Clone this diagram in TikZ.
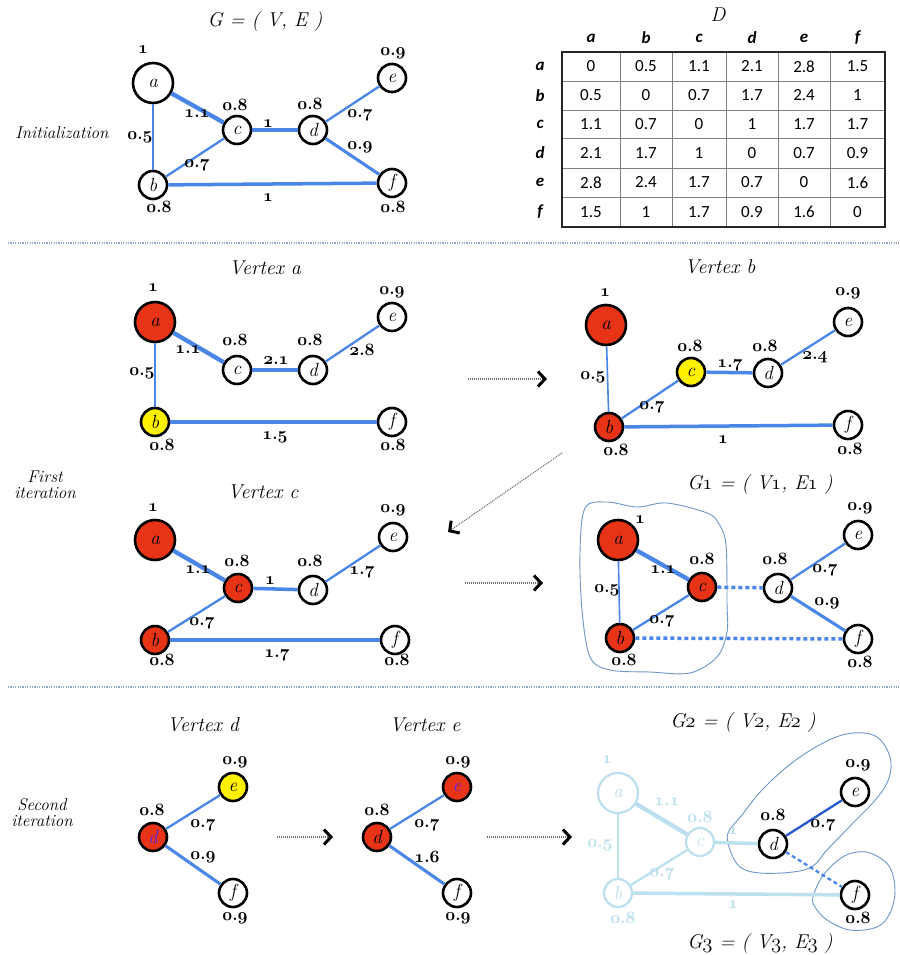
\documentclass[tikz,border=0pt]{standalone}
\usepackage{fontspec}
\usetikzlibrary{arrows.meta}
\newfontfamily\tabfont{Carlito}
\definecolor{eblue}{RGB}{74,134,232}
\definecolor{edark}{RGB}{40,90,205}
\definecolor{nred}{RGB}{232,52,22}
\definecolor{nyel}{RGB}{255,240,0}
\definecolor{fadec}{RGB}{188,224,238}
\definecolor{blobc}{RGB}{110,150,200}
\definecolor{sepc}{RGB}{140,170,200}
\definecolor{letblue}{RGB}{90,40,230}
\definecolor{arrg}{RGB}{110,110,110}
\newcommand\od[1]{{\usefont{OML}{cmm}{b}{it}#1}}
\newcommand\ot[1]{{\usefont{OML}{cmm}{m}{it}#1}}
\newcommand\wv[2]{\od{#1}\textbf{.}\od{#2}}
\newcounter{lbc}
\newcommand\lb[2]{\stepcounter{lbc}\node[lbl] (lb\arabic{lbc}) at (#1) {#2};}
\newcommand\flb[2]{\stepcounter{lbc}\node[lbl,text=fadec] (lb\arabic{lbc}) at (#1) {#2};}
\newcommand\trow[8]{%
 \node[thead] (rh-#2) at (540,#1) {#2};
 \node[tcell] (t-#2-a) at (591,#1) {#3};
 \node[tcell] (t-#2-b) at (646,#1) {#4};
 \node[tcell] (t-#2-c) at (699,#1) {#5};
 \node[tcell] (t-#2-d) at (752,#1) {#6};
 \node[tcell] (t-#2-e) at (804,#1) {#7};
 \node[tcell] (t-#2-f) at (857.5,#1) {#8};}
\tikzset{
 vtx/.style={circle, draw=black, line width=2.6pt, minimum size=28pt, inner sep=0pt, fill=white, font=\fontsize{19}{19}\selectfont\itshape},
 bigv/.style={minimum size=40pt},
 redv/.style={fill=nred},
 yelv/.style={fill=nyel},
 fadv/.style={draw=fadec, text=fadec, line width=2.2pt},
 lbl/.style={inner sep=0pt, font=\fontsize{17}{17}\selectfont},
 ttl/.style={inner sep=0pt, font=\fontsize{20}{20}\selectfont\itshape},
 side/.style={inner sep=0pt, align=center, font=\fontsize{17}{16}\selectfont\itshape},
 e05/.style={draw=eblue, line width=1.6pt},
 e07/.style={draw=eblue, line width=2.3pt},
 e09/.style={draw=eblue, line width=3.1pt},
 e10/.style={draw=eblue, line width=3.5pt},
 e11/.style={draw=eblue, line width=4.3pt},
 dotl/.style={dash pattern=on 4pt off 3pt},
 fade/.style={draw=fadec},
 arr/.style={draw=arrg, line width=1.1pt, dash pattern=on 1pt off 1pt, -{Straight Barb[length=7pt,width=15pt,line width=3pt,color=black]}},
 blob/.style={draw=blobc, line width=0.9pt},
 sep/.style={draw=sepc, line width=1.6pt, dash pattern=on 1.2pt off 1.2pt},
 tcell/.style={inner sep=0pt, font=\tabfont\fontsize{17}{17}\selectfont},
 thead/.style={inner sep=0pt, font=\tabfont\fontsize{17}{17}\selectfont\bfseries\itshape},
}
\begin{document}
\begin{tikzpicture}[x=1pt,y=-1pt]
\fill[white] (0,0) rectangle (899,955);
\useasboundingbox (0,0) rectangle (899,955);

% separators
\draw[sep] (8,243) -- (899,243);
\draw[sep] (8,687) -- (899,687);

% ================= Initialization =================
\node[ttl] (t-init) at (265,22) {G = ( V, E )};
\node[side] (s-init) at (62,133) {Initialization};
\node[vtx,bigv] (i-a) at (153,83) {a};
\node[vtx] (i-b) at (153,185) {b};
\node[vtx] (i-c) at (237,130) {c};
\node[vtx] (i-d) at (313,130) {d};
\node[vtx] (i-e) at (392,78) {e};
\node[vtx] (i-f) at (392,183) {f};
\draw[e11] (i-a) -- (i-c);
\draw[e05] (i-a) -- (i-b);
\draw[e07] (i-b) -- (i-c);
\draw[e10] (i-c) -- (i-d);
\draw[e07] (i-d) -- (i-e);
\draw[e09] (i-d) -- (i-f);
\draw[e10] (i-b) -- (i-f);
\lb{143,50}{\od1}
\lb{235,105}{\wv08}
\lb{310,104}{\wv08}
\lb{393,53}{\wv09}
\lb{197,114}{\wv11}
\lb{268,124}{\od1}
\lb{360,115}{\wv07}
\lb{360,147}{\wv09}
\lb{140,137}{\wv05}
\lb{197,165}{\wv07}
\lb{268,198}{\od1}
\lb{159,207}{\wv08}
\lb{393,207}{\wv08}

% ================= Table =================
\node[inner sep=0pt, font=\fontsize{20}{20}\selectfont\itshape] (t-D) at (718,15) {D};
\node[thead] (th-a) at (591,38) {a};
\node[thead] (th-b) at (646,38) {b};
\node[thead] (th-c) at (699,38) {c};
\node[thead] (th-d) at (752,38) {d};
\node[thead] (th-e) at (804,38) {e};
\node[thead] (th-f) at (857.5,38) {f};
\foreach \xx in {620,672,726,778,830}{\draw[gray, line width=0.8pt] (\xx,52) -- (\xx,227);}
\foreach \yy in {81,110,138,168,197}{\draw[gray, line width=0.8pt] (562,\yy) -- (885,\yy);}
\draw[black!85, line width=1.8pt] (562,52) rectangle (885,227);
\trow{66.5}{a}{0}{0.5}{1.1}{2.1}{2.8}{1.5}
\trow{95.5}{b}{0.5}{0}{0.7}{1.7}{2.4}{1}
\trow{124}{c}{1.1}{0.7}{0}{1}{1.7}{1.7}
\trow{153}{d}{2.1}{1.7}{1}{0}{0.7}{0.9}
\trow{182.5}{e}{2.8}{2.4}{1.7}{0.7}{0}{1.6}
\trow{212}{f}{1.5}{1}{1.7}{0.9}{1.6}{0}

% ================= Vertex a =================
\node[ttl] (t-va) at (265,268) {Vertex a};
\node[vtx,bigv,redv] (a-a) at (155,322) {a};
\node[vtx,yelv] (a-b) at (155,422) {b};
\node[vtx] (a-c) at (237,370) {c};
\node[vtx] (a-d) at (313,370) {d};
\node[vtx] (a-e) at (392,317) {e};
\node[vtx] (a-f) at (392,422) {f};
\draw[e11] (a-a) -- (a-c);
\draw[e10] (a-c) -- (a-d);
\draw[e07] (a-d) -- (a-e);
\draw[e05] (a-a) -- (a-b);
\draw[e10] (a-b) -- (a-f);
\lb{153,288}{\od1}
\lb{392,292}{\wv09}
\lb{235,340}{\wv08}
\lb{310,340}{\wv08}
\lb{188,350}{\wv11}
\lb{276,361}{\wv21}
\lb{362,350}{\wv28}
\lb{142,373}{\wv05}
\lb{275,437}{\wv15}
\lb{162,445}{\wv08}
\lb{393,445}{\wv08}

% ================= Vertex b =================
\node[ttl] (t-vb) at (720,267) {Vertex b};
\node[vtx,bigv,redv] (b-a) at (606,325) {a};
\node[vtx,redv] (b-b) at (609,427) {b};
\node[vtx,yelv] (b-c) at (691,372) {c};
\node[vtx] (b-d) at (768,373) {d};
\node[vtx] (b-e) at (848,322) {e};
\node[vtx] (b-f) at (848,425) {f};
\draw[e05] (b-a) -- (b-b);
\draw[e07] (b-b) -- (b-c);
\draw[e10] (b-c) -- (b-d);
\draw[e07] (b-d) -- (b-e);
\draw[e10] (b-b) -- (b-f);
\lb{605,293}{\od1}
\lb{848,293}{\wv09}
\lb{690,346}{\wv08}
\lb{765,346}{\wv08}
\lb{730,365}{\wv17}
\lb{815,357}{\wv24}
\lb{593,377}{\wv05}
\lb{652,407}{\wv07}
\lb{723,440}{\od1}
\lb{616,450}{\wv08}
\lb{850,449}{\wv08}
\coordinate (ar1s) at (468,379);
\coordinate (ar1e) at (547,379);
\draw[arr] (ar1s) -- (ar1e);
\coordinate (ar2s) at (562,453);
\coordinate (ar2e) at (448,532);
\draw[arr] (ar2s) -- (ar2e);

% ================= Vertex c =================
\node[side] (s-first) at (45,485) {First\\iteration};
\node[ttl] (t-vc) at (263,492) {Vertex c};
\node[vtx,bigv,redv] (c-a) at (155,540) {a};
\node[vtx,redv] (c-b) at (155,640) {b};
\node[vtx,redv] (c-c) at (238,588) {c};
\node[vtx] (c-d) at (313,590) {d};
\node[vtx] (c-e) at (393,537) {e};
\node[vtx] (c-f) at (395,640) {f};
\draw[e11] (c-a) -- (c-c);
\draw[e10] (c-c) -- (c-d);
\draw[e07] (c-d) -- (c-e);
\draw[e07] (c-b) -- (c-c);
\draw[e10] (c-b) -- (c-f);
\lb{153,508}{\od1}
\lb{393,510}{\wv09}
\lb{237,561}{\wv08}
\lb{310,561}{\wv08}
\lb{198,570}{\wv11}
\lb{270,581}{\od1}
\lb{362,572}{\wv17}
\lb{202,623}{\wv07}
\lb{277,655}{\wv17}
\lb{162,660}{\wv08}
\lb{397,660}{\wv08}

% ================= G1 =================
\node[ttl] (t-g1) at (760,485) {G\ot1 = ( V\ot1, E\ot1 )};
\draw[blob] plot[smooth cycle, tension=0.55] coordinates {(585,508) (607,502) (637,507) (667,503) (707,513) (719,524) (726,545) (727,603) (727,632) (717,657) (690,673) (650,672) (610,670) (590,657) (582,610) (580,553)};
\node[vtx,bigv,redv] (g-a) at (618,540) {a};
\node[vtx,redv] (g-b) at (620,638) {b};
\node[vtx,redv] (g-c) at (702,587) {c};
\node[vtx] (g-d) at (778,588) {d};
\node[vtx] (g-e) at (858,535) {e};
\node[vtx] (g-f) at (858,639) {f};
\draw[e11] (g-a) -- (g-c);
\draw[e05] (g-a) -- (g-b);
\draw[e07] (g-b) -- (g-c);
\draw[e10,dotl] (g-c) -- (g-d);
\draw[e10,dotl] (g-b) -- (g-f);
\draw[e07] (g-d) -- (g-e);
\draw[e09] (g-d) -- (g-f);
\lb{640,520}{\od1}
\lb{860,508}{\wv09}
\lb{702,559}{\wv08}
\lb{775,559}{\wv08}
\lb{663,570}{\wv11}
\lb{825,570}{\wv07}
\lb{827,603}{\wv09}
\lb{607,590}{\wv05}
\lb{662,621}{\wv07}
\lb{624,660}{\wv08}
\lb{860,662}{\wv08}
\coordinate (ar3s) at (465,583);
\coordinate (ar3e) at (543,583);
\draw[arr] (ar3s) -- (ar3e);

% ================= Vertex d =================
\node[side] (s-second) at (42,813) {Second\\iteration};
\node[ttl] (t-vd) at (203,725) {Vertex d};
\node[vtx,redv,text=letblue] (d-d) at (153,837) {d};
\node[vtx,yelv] (d-e) at (233,787) {e};
\node[vtx] (d-f) at (233,893) {f};
\draw[e07] (d-d) -- (d-e);
\draw[e09] (d-d) -- (d-f);
\lb{152,810}{\wv08}
\lb{235,762}{\wv09}
\lb{203,825}{\wv07}
\lb{203,857}{\wv09}
\lb{235,918}{\wv09}
\coordinate (ar4s) at (277,837);
\coordinate (ar4e) at (333,837);
\draw[arr] (ar4s) -- (ar4e);

% ================= Vertex e =================
\node[ttl] (t-ve) at (425,725) {Vertex e};
\node[vtx,redv] (e-d) at (377,837) {d};
\node[vtx,redv,text=letblue] (e-e) at (457,787) {e};
\node[vtx] (e-f) at (457,893) {f};
\draw[e07] (e-d) -- (e-e);
\draw[e09] (e-d) -- (e-f);
\lb{377,810}{\wv08}
\lb{458,762}{\wv09}
\lb{427,825}{\wv07}
\lb{427,857}{\wv16}
\lb{458,918}{\wv09}
\coordinate (ar5s) at (487,837);
\coordinate (ar5e) at (572,837);
\draw[arr] (ar5s) -- (ar5e);

% ================= G2 / G3 =================
\node[ttl] (t-g2) at (743,723) {G\ot2 = ( V\ot2, E\ot2 )};
\node[ttl] (t-g3) at (760,943) {G\ot3 = ( V\ot3, E\ot3 )};
\node[vtx,bigv,fadv] (h-a) at (618,793) {a};
\node[vtx,fadv] (h-b) at (618,893) {b};
\node[vtx,fadv] (h-c) at (700,842) {c};
\draw[e11,fade] (h-a) -- (h-c);
\draw[e05,fade] (h-a) -- (h-b);
\draw[e07,fade] (h-b) -- (h-c);
\flb{607,760}{\od1}
\flb{667,802}{\wv11}
\flb{700,817}{\wv08}
\flb{600,845}{\wv05}
\flb{662,874}{\wv07}
\flb{733,905}{\od1}
\flb{623,918}{\wv08}
\draw[blob] plot[smooth cycle, tension=0.6] coordinates {(728,833) (742,815) (762,790) (793,762) (827,741) (853,733) (877,737) (890,757) (889,778) (877,798) (853,823) (827,850) (813,866) (793,872) (760,873) (740,867) (730,850)};
\draw[blob] plot[smooth cycle, tension=0.6] coordinates {(813,897) (822,877) (837,861) (852,853) (870,853) (889,866) (895,890) (890,913) (877,927) (850,930) (827,920) (815,907)};
\node[vtx] (h-d) at (773,844) {d};
\node[vtx] (h-e) at (855,792) {e};
\node[vtx] (h-f) at (855,895) {f};
\draw[e10,fade] (h-c) -- (h-d);
\draw[e10,fade] (h-b) -- (h-f);
\flb{733,831}{\od1}
\draw[e07,draw=edark] (h-d) -- (h-e);
\draw[e07,dotl] (h-d) -- (h-f);
\lb{773,815}{\wv08}
\lb{858,765}{\wv09}
\lb{823,825}{\wv07}
\lb{858,918}{\wv08}
\end{tikzpicture}
\end{document}
